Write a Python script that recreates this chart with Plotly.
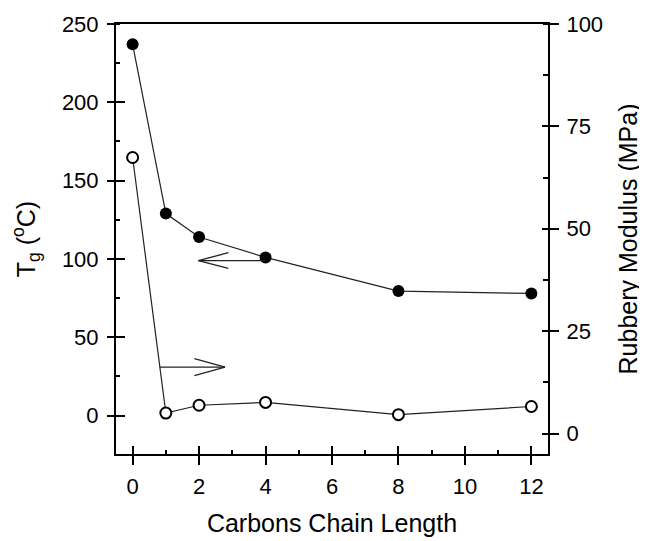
import plotly.graph_objects as go

# ---- data ----
chain_length = [0, 1, 2, 4, 8, 12]
tg_values = [237, 129, 114, 101, 79.5, 78]          # left axis, filled circles
modulus_values = [67.4, 5.0, 6.9, 7.6, 4.6, 6.6]      # right axis, open circles

x_ticks = [0, 2, 4, 6, 8, 10, 12]
left_ticks = [0, 50, 100, 150, 200, 250]
right_ticks = [0, 25, 50, 75, 100]

# annotation arrows (data coords on x / left y axis)
left_arrow = dict(tail=(4.0, 99), tip=(1.98, 99), back=2.88, half=5.0)
right_arrow = dict(tail=(0.82, 31), tip=(2.78, 31), back=1.86, half=5.4)

FONT = "Liberation Sans, Arial, sans-serif"
BLACK = "#000000"

fig = go.Figure()

fig.add_trace(go.Scatter(
    x=chain_length, y=modulus_values, yaxis="y2", mode="lines+markers",
    line=dict(color="#222222", width=1.2),
    marker=dict(symbol="circle", size=11, color="white",
                line=dict(color=BLACK, width=2)),
    showlegend=False, cliponaxis=False))

fig.add_trace(go.Scatter(
    x=chain_length, y=tg_values, mode="lines+markers",
    line=dict(color="#222222", width=1.2),
    marker=dict(symbol="circle", size=12, color=BLACK),
    showlegend=False, cliponaxis=False))

# dummy traces so the overlay axes (inside half of the crossing ticks) render
fig.add_trace(go.Scatter(x=[None], y=[None], xaxis="x2", yaxis="y3",
                         showlegend=False, hoverinfo="skip"))
fig.add_trace(go.Scatter(x=[None], y=[None], xaxis="x2", yaxis="y4",
                         showlegend=False, hoverinfo="skip"))


def arrow_shapes(a):
    (x0, y0), (x1, y1) = a["tail"], a["tip"]
    line = dict(color="#222222", width=1.3)
    return [
        dict(type="line", xref="x", yref="y", x0=x0, y0=y0, x1=x1, y1=y1, line=line),
        dict(type="line", xref="x", yref="y", x0=x1, y0=y1, x1=a["back"],
             y1=y1 + a["half"], line=line),
        dict(type="line", xref="x", yref="y", x0=x1, y0=y1, x1=a["back"],
             y1=y1 - a["half"], line=line),
    ]


shapes = arrow_shapes(left_arrow) + arrow_shapes(right_arrow)

XR = [-0.5, 12.5]
YR = [-24.5, 250]
Y2R = [-5, 100]

tickfont = dict(family=FONT, size=22, color=BLACK)
titlefont = dict(family=FONT, size=25, color=BLACK)

# the page body has an 8px margin, so the figure is 8px smaller than the window
fig.update_layout(
    width=639, height=533,
    margin=dict(l=108, r=99, t=16, b=87),
    paper_bgcolor="white", plot_bgcolor="white",
    shapes=shapes,
    xaxis=dict(
        range=XR, tickmode="array", tickvals=x_ticks,
        ticktext=[str(v) for v in x_ticks],
        ticks="outside", ticklen=9, tickwidth=2, tickcolor=BLACK,
        minor=dict(dtick=1, tick0=0, ticks="inside", ticklen=4, tickwidth=2,
                   tickcolor=BLACK),
        showline=True, linewidth=2, linecolor=BLACK, mirror=True,
        showgrid=False, zeroline=False, tickfont=tickfont,
        ticklabelstandoff=3, automargin=False,
        title=dict(text="Carbons Chain Length", font=titlefont, standoff=16),
    ),
    yaxis=dict(
        range=YR, tickmode="array", tickvals=left_ticks,
        ticks="outside", ticklen=7, tickwidth=2, tickcolor=BLACK,
        minor=dict(dtick=25, tick0=0, ticks="inside", ticklen=4, tickwidth=2,
                   tickcolor=BLACK),
        showline=True, linewidth=2, linecolor=BLACK,
        showgrid=False, zeroline=False, tickfont=tickfont,
        ticklabelstandoff=4, automargin=False,
        title=dict(text="T<sub>g</sub> (<sup>o</sup>C)", font=titlefont, standoff=20),
    ),
    yaxis2=dict(
        range=Y2R, overlaying="y", side="right", tickmode="array",
        tickvals=right_ticks,
        ticks="outside", ticklen=9, tickwidth=2, tickcolor=BLACK,
        minor=dict(dtick=12.5, tick0=0, ticks="inside", ticklen=5, tickwidth=2,
                   tickcolor=BLACK),
        showline=True, linewidth=2, linecolor=BLACK,
        showgrid=False, zeroline=False, tickfont=tickfont,
        ticklabelstandoff=3, automargin=False,
        title=dict(text="Rubbery Modulus (MPa)", font=titlefont, standoff=17),
    ),
    # overlay axes for the inside part of the crossing major ticks
    xaxis2=dict(range=XR, overlaying="x", anchor="y", side="bottom",
                tickmode="array", tickvals=x_ticks, ticks="inside", ticklen=8,
                tickwidth=2, tickcolor=BLACK, showticklabels=False,
                showline=False, showgrid=False, zeroline=False, automargin=False),
    yaxis3=dict(range=YR, overlaying="y", anchor="x", side="left",
                tickmode="array", tickvals=left_ticks, ticks="inside", ticklen=9,
                tickwidth=2, tickcolor=BLACK, showticklabels=False,
                showline=False, showgrid=False, zeroline=False, automargin=False),
    yaxis4=dict(range=Y2R, overlaying="y", anchor="x", side="right",
                tickmode="array", tickvals=right_ticks, ticks="inside", ticklen=6,
                tickwidth=2, tickcolor=BLACK, showticklabels=False,
                showline=False, showgrid=False, zeroline=False, automargin=False),
)

fig.write_html("out.html")
